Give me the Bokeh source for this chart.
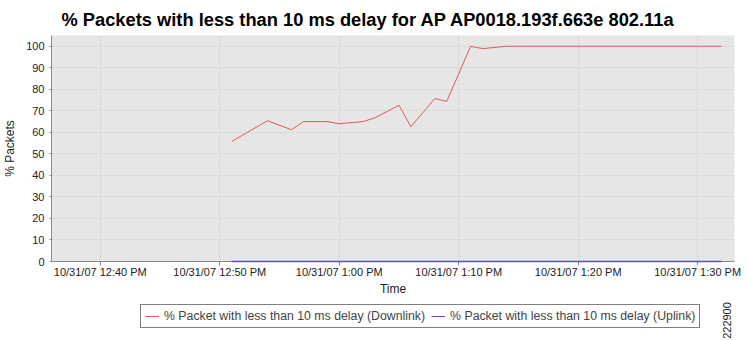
from datetime import datetime
from math import pi
from bokeh.plotting import figure
from bokeh.layouts import column
from bokeh.core.properties import value
from bokeh.models import (Range1d, FixedTicker, Legend, LegendItem, Title)
from bokeh.embed import file_html
from bokeh.resources import INLINE

title_text = "% Packets with less than 10 ms delay for AP AP0018.193f.663e 802.11a"
x_label = "Time"
y_label = "% Packets"
down_name = "% Packet with less than 10 ms delay (Downlink)"
up_name = "% Packet with less than 10 ms delay (Uplink)"
side_note = "222900"

down_times = ["12:51", "12:54", "12:56", "12:57", "12:59", "13:00", "13:02", "13:03",
              "13:05", "13:06", "13:08", "13:09", "13:11", "13:12", "13:14", "13:32"]
down_vals = [55.8, 65.4, 61.2, 65.0, 65.0, 64.0, 65.0, 66.8,
             72.6, 62.6, 75.7, 74.4, 100.0, 98.9, 100.0, 100.0]
up_times = ["12:51", "13:32"]
up_vals = [0.0, 0.0]

tick_times = ["12:40", "12:50", "13:00", "13:10", "13:20", "13:30"]
tick_labels = ["10/31/07 12:40 PM", "10/31/07 12:50 PM", "10/31/07 1:00 PM",
               "10/31/07 1:10 PM", "10/31/07 1:20 PM", "10/31/07 1:30 PM"]
y_ticks = [0, 10, 20, 30, 40, 50, 60, 70, 80, 90, 100]

DOWN_COLOR = "#e05a5a"
UP_COLOR = "#5555b0"


def ms(hm, sec=0):
    h, m = hm.split(":")
    d = datetime(2007, 10, 31, int(h), int(m), sec)
    return (d - datetime(1970, 1, 1)).total_seconds() * 1000.0


dx = [ms(t) for t in down_times]
ux = [ms(t) for t in up_times]
tx = [ms(t) for t in tick_times]

p = figure(width=748, height=300, output_backend="svg", toolbar_location=None,
           x_axis_type="datetime",
           x_range=Range1d(ms("12:35", 55), ms("13:33", 5)),
           y_range=Range1d(0, 105),
           min_border_left=49, min_border_right=14, min_border_top=35, min_border_bottom=39)
p.background_fill_color = "#e6e6e6"
p.border_fill_color = "white"
p.outline_line_color = None

p.title = Title(text=title_text, align="left", offset=10, standoff=12,
                text_font="Liberation Sans", text_font_size="18.3px",
                text_font_style="bold", text_color="black")

p.line(dx, down_vals, line_color=DOWN_COLOR, line_width=1)
p.line(ux, up_vals, line_color=UP_COLOR, line_width=1.6, level="overlay")

for ax in (p.xaxis[0], p.yaxis[0]):
    ax.axis_line_color = "#8a8a8a"
    ax.major_tick_line_color = "#8a8a8a"
    ax.minor_tick_line_color = None
    ax.major_tick_in = 0
    ax.major_label_text_font = "Liberation Sans"
    ax.major_label_text_font_size = "11px"
    ax.major_label_text_color = "#222222"
    ax.axis_label_text_font = "Liberation Sans"
    ax.axis_label_text_font_size = "12px"
    ax.axis_label_text_font_style = "normal"
    ax.axis_label_text_color = "#222222"

p.xaxis[0].ticker = FixedTicker(ticks=tx)
p.xaxis[0].major_label_overrides = {t: l for t, l in zip(tx, tick_labels)}
p.xaxis[0].major_tick_out = 4
p.xaxis[0].major_label_standoff = 0
p.xaxis[0].axis_label = x_label
p.xaxis[0].axis_label_standoff = 1

p.yaxis[0].ticker = FixedTicker(ticks=y_ticks)
p.yaxis[0].major_tick_out = 2
p.yaxis[0].major_label_standoff = 5
p.yaxis[0].axis_label = y_label
p.yaxis[0].axis_label_standoff = 6

p.xgrid[0].ticker = FixedTicker(ticks=tx)
p.ygrid[0].ticker = FixedTicker(ticks=y_ticks)
for g in (p.xgrid[0], p.ygrid[0]):
    g.grid_line_color = "#cfcfcf"
    g.grid_line_dash = "2 2"
    g.grid_line_width = 1

# footer figure: legend and side note (its ranges keep the series out of view,
# they are only there to give the legend its line swatches)
f = figure(width=748, height=40, output_backend="svg", toolbar_location=None,
           x_range=Range1d(0, 748), y_range=Range1d(-40, 0),
           min_border=0, min_border_left=0, min_border_right=0,
           min_border_top=0, min_border_bottom=0)
f.axis.visible = False
f.grid.visible = False
f.outline_line_color = None
f.background_fill_color = "white"
f.border_fill_color = "white"

l_down = f.line(dx, down_vals, line_color=DOWN_COLOR, line_width=1)
l_up = f.line(ux, up_vals, line_color=UP_COLOR, line_width=1)

legend = Legend(items=[LegendItem(label=down_name, renderers=[l_down]),
                       LegendItem(label=up_name, renderers=[l_up])],
                orientation="horizontal", location=(89, 12),
                border_line_color="black", border_line_width=1,
                background_fill_color="white",
                label_text_font="Liberation Sans", label_text_font_size="12.3px",
                label_standoff=5, glyph_width=14, glyph_height=10,
                spacing=6, padding=4, margin=0,
                label_height=14)
f.add_layout(legend, "center")

f.text(x=[740], y=[-20], text=[side_note], angle=pi / 2,
       text_align="center", text_baseline="middle",
       text_font=value("Liberation Sans"), text_font_size="11px", text_color="#222222")

layout = column(p, f, spacing=0, width=748)
open("out.html", "w").write(file_html(layout, INLINE))
